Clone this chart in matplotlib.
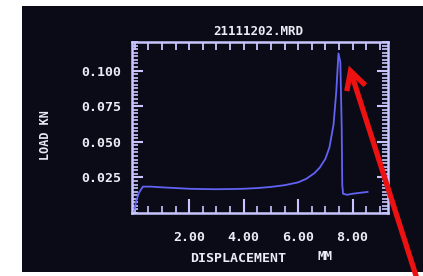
import matplotlib
matplotlib.use("Agg")
import matplotlib.pyplot as plt
from matplotlib.patches import Rectangle, FancyArrowPatch
from matplotlib.ticker import MultipleLocator, FixedLocator, NullFormatter

# Data
disp = [0.0, 0.05, 0.15, 0.3, 0.6, 1.0, 1.5, 2.0, 2.5, 3.0, 3.5, 4.0, 4.5, 5.0,
        5.5, 6.0, 6.3, 6.6, 6.8, 7.0, 7.15, 7.3, 7.4, 7.48, 7.55, 7.6, 7.62,
        7.65, 7.8, 8.0, 8.2, 8.55]
load = [0.003, 0.008, 0.014, 0.0185, 0.0185, 0.018, 0.0175, 0.017, 0.0168,
        0.0167, 0.0168, 0.017, 0.0175, 0.0183, 0.0195, 0.0215, 0.024, 0.028,
        0.032, 0.038, 0.046, 0.062, 0.085, 0.112, 0.106, 0.06, 0.02, 0.0135,
        0.0128, 0.0135, 0.014, 0.0148]
yticks = [0.025, 0.050, 0.075, 0.100]
ytick_labels = ["0.025", "0.050", "0.075", "0.100"]
xticks = [2.0, 4.0, 6.0, 8.0]
xtick_labels = ["2.00", "4.00", "6.00", "8.00"]
title = "21111202.MRD"

W, H = 423, 276
fig = plt.figure(figsize=(W / 100, H / 100), dpi=100)
fig.patch.set_facecolor("white")
# dark screen area
fig.patches.append(Rectangle((22 / W, 4 / H), (W - 22) / W, (H - 10) / H,
                             transform=fig.transFigure, facecolor="#0b0b18",
                             edgecolor="none", zorder=-5))

ax = fig.add_axes([132 / W, 1 - 213 / H, (388 - 132) / W, (213 - 42) / H])
ax.set_zorder(2)
ax.set_facecolor("#0b0b18")
axc = "#c9c6ff"
line_c = "#6262f5"
txt_c = "#ececf6"

ax.plot(disp, load, color=line_c, lw=1.3, zorder=3)
ax.set_xlim(-0.1, 9.3)
ax.set_ylim(0, 0.12)

for s in ax.spines.values():
    s.set_color(axc)
    s.set_linewidth(1.8)

mono = "DejaVu Sans Mono"
ax.yaxis.set_major_locator(FixedLocator(yticks))
ax.set_yticklabels(ytick_labels, fontsize=9.5, fontweight="bold", color=txt_c, family=mono)
ax.yaxis.set_minor_locator(MultipleLocator(0.0025))
ax.xaxis.set_major_locator(FixedLocator(xticks))
ax.set_xticklabels(xtick_labels, fontsize=9.5, fontweight="bold", color=txt_c, family=mono)
ax.xaxis.set_minor_locator(MultipleLocator(0.5))

ax.tick_params(axis="y", which="major", direction="in", length=8, width=1.5,
               color=axc, right=True, pad=8)
ax.tick_params(axis="y", which="minor", direction="in", length=4, width=1.2,
               color=axc, right=True)
ax.tick_params(axis="x", which="major", direction="in", length=10, width=1.5,
               color=axc, top=False, pad=13)
ax.tick_params(axis="x", which="minor", direction="in", length=5, width=1.2,
               color=axc, top=False)

# uniform ticks along the top edge
top = ax.secondary_xaxis("top")
top.xaxis.set_major_locator(MultipleLocator(0.5))
top.xaxis.set_major_formatter(NullFormatter())
top.tick_params(direction="in", length=6, width=1.3, color=axc)
top.spines["top"].set_visible(False)

fig.text(258 / W, 1 - 31 / H, title, ha="center", va="center", fontsize=9,
         fontweight="bold", color=txt_c, family=mono)
fig.text(238 / W, 1 - 258 / H, "DISPLACEMENT", ha="center", va="center",
         fontsize=9.5, fontweight="bold", color=txt_c, family=mono)
fig.text(325 / W, 1 - 256 / H, "MM", ha="center", va="center",
         fontsize=9, fontweight="bold", color=txt_c, family=mono)
fig.text(45 / W, 1 - 135 / H, "LOAD KN", ha="center", va="center", rotation=90,
         fontsize=8.5, fontweight="bold", color=txt_c, family=mono)

# red arrow annotation
fig.add_artist(FancyArrowPatch(
    (418 / W, 1 - 282 / H), (348 / W, 1 - 63 / H), transform=fig.transFigure,
    arrowstyle="->,head_length=13,head_width=7", color="#ee1111", lw=3.8,
    mutation_scale=1, zorder=10, capstyle="butt", joinstyle="miter"))

fig.savefig("out.png", dpi=100, facecolor=fig.get_facecolor())
